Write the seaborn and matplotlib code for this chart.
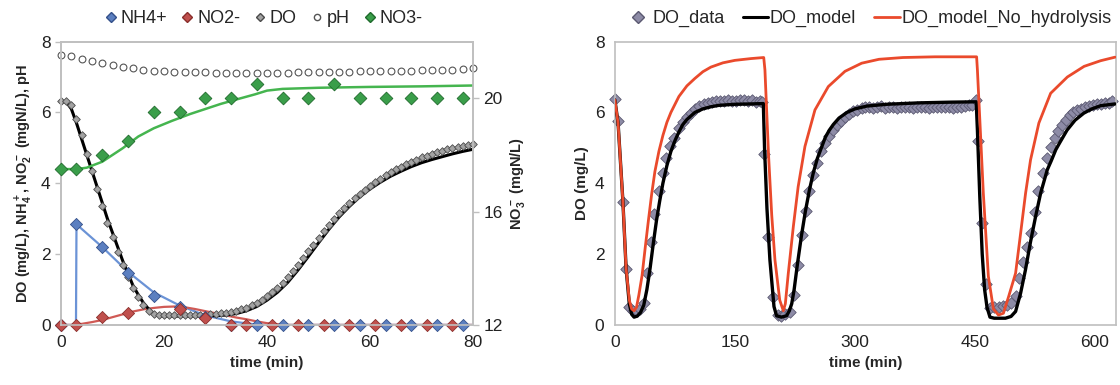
import numpy as np
import pandas as pd
import seaborn as sns
import matplotlib.pyplot as plt
from matplotlib.lines import Line2D

# --- left panel: batch test (0-80 min) ---
t_do = list(range(0, 81))
do_data = [6.31, 6.32, 6.21, 5.81, 5.36, 4.83, 4.36, 3.83, 3.36, 2.89, 2.48, 2.07, 1.69, 1.36, 1.04,
           0.80, 0.56, 0.38, 0.31, 0.28, 0.27, 0.27, 0.27, 0.27, 0.27, 0.27, 0.28, 0.28, 0.29, 0.30,
           0.31, 0.33, 0.35, 0.37, 0.40, 0.44, 0.49, 0.55, 0.62, 0.71, 0.81, 0.92, 1.05, 1.19, 1.35,
           1.52, 1.70, 1.89, 2.08, 2.27, 2.46, 2.65, 2.83, 3.00, 3.16, 3.31, 3.45, 3.58, 3.70, 3.82,
           3.93, 4.03, 4.13, 4.22, 4.31, 4.39, 4.47, 4.54, 4.61, 4.67, 4.73, 4.78, 4.83, 4.88, 4.92,
           4.96, 5.00, 5.03, 5.06, 5.09, 5.12]
t_do_model = [0, 1, 2, 3, 4, 5, 6, 7, 8, 9, 10, 11, 12, 13, 14, 15, 16, 17, 18, 19, 20, 25, 30, 32, 34,
              36, 38, 40, 42, 44, 46, 48, 50, 52, 54, 56, 58, 60, 62, 64, 66, 68, 70, 72, 74, 76, 78, 80]
do_model = [6.3, 6.3, 6.1, 5.7, 5.25, 4.8, 4.35, 3.9, 3.45, 3.0, 2.6, 2.2, 1.8, 1.45, 1.1, 0.85, 0.62,
            0.45, 0.3, 0.26, 0.25, 0.25, 0.26, 0.28, 0.32, 0.4, 0.52, 0.7, 0.92, 1.2, 1.55, 1.93, 2.32,
            2.7, 3.05, 3.35, 3.62, 3.84, 4.03, 4.2, 4.34, 4.47, 4.58, 4.67, 4.75, 4.83, 4.9, 4.96]

t_ph = list(range(0, 81, 2))
ph = [7.62, 7.58, 7.52, 7.46, 7.40, 7.34, 7.29, 7.24, 7.21, 7.18, 7.16, 7.15, 7.14, 7.13, 7.13,
      7.12, 7.12, 7.12, 7.11, 7.11, 7.11, 7.12, 7.12, 7.13, 7.13, 7.14, 7.14, 7.15, 7.15, 7.16,
      7.16, 7.17, 7.17, 7.18, 7.18, 7.19, 7.19, 7.20, 7.21, 7.22, 7.24]

t_nh4 = [0, 3, 8, 13, 18, 23, 28, 33, 38, 43, 48, 53, 58, 63, 68, 73, 78]
nh4 = [0, 2.84, 2.19, 1.46, 0.83, 0.52, 0.22, 0, 0, 0, 0, 0, 0, 0, 0, 0, 0]
t_nh4_model = [0, 2.9, 3, 8, 13, 18, 23, 28, 33, 38, 40, 80]
nh4_model = [0, 0, 2.84, 2.2, 1.5, 0.92, 0.55, 0.27, 0.1, 0.01, 0, 0]

t_no2 = [0, 3, 8, 13, 23, 28, 33, 36, 41, 46, 51, 56, 61, 66, 71, 76]
no2 = [0, 0, 0.22, 0.33, 0.44, 0.19, 0, 0, 0, 0, 0, 0, 0, 0, 0, 0]
t_no2_model = [0, 2, 4, 6, 8, 10, 12, 14, 16, 18, 20, 22, 24, 26, 28, 30, 32, 34, 36, 38, 40, 42, 44, 80]
no2_model = [0, 0, 0.03, 0.08, 0.14, 0.22, 0.3, 0.38, 0.44, 0.48, 0.51, 0.52, 0.5, 0.45, 0.39, 0.33,
             0.27, 0.21, 0.16, 0.1, 0.05, 0.02, 0, 0]

t_no3 = [0, 3, 8, 13, 18, 23, 28, 33, 38, 43, 48, 53, 58, 63, 68, 73, 78]
no3 = [17.5, 17.5, 18.0, 18.5, 19.5, 19.5, 20.0, 20.0, 20.5, 20.0, 20.0, 20.5, 20.0, 20.0, 20.0, 20.0, 20.0]
t_no3_model = [0, 3, 5, 8, 12, 15, 18, 21.5, 25, 28, 31, 34.5, 37.7, 40, 43, 50, 60, 70, 80]
no3_model = [17.5, 17.5, 17.55, 17.76, 18.24, 18.65, 18.94, 19.2, 19.44, 19.62, 19.8, 19.98, 20.14,
             20.27, 20.33, 20.37, 20.4, 20.42, 20.45]

# --- right panel: three SBR cycles (0-625 min) ---
t_do_cyc = [0.4, 3.8, 10, 13.8, 17.9, 23, 28, 32, 36.7, 39.6, 45, 49.2, 54.7, 59.7, 64.2, 69.2, 74.2,
            79.7, 84.7, 90.1, 95.2, 100.5, 105.5, 111, 116, 121.4, 126.4, 131.7, 136.7, 141.7, 146.7,
            151.7, 156.7, 161.7, 166.7, 171.7, 176.7, 181.7, 184, 186.7,
            191.7, 197.9, 203.4, 207.5, 213, 218.8, 224.2, 228.4, 233.4, 238.4, 243, 248, 253, 257.2,
            262.5, 267.5, 272.5, 277, 282.5, 287.5, 292.5, 298, 303, 308.3, 313, 318, 323, 328, 333,
            338, 343, 348, 353, 358, 363, 368, 373, 378, 383, 388, 393, 398, 403, 408, 413, 418, 423,
            428, 433, 438, 442.3, 446, 450.7,
            454, 458.2, 464, 468.5, 473.6, 479.8, 484.6, 490, 495, 500.7, 504.9, 509.9, 514.5, 519.5,
            524.5, 529.1, 534.9, 539.5, 544.5, 549.5, 554.2, 559.2, 563.3, 568.4, 572.5, 577.5, 582.5,
            587.5, 592.5, 597.5, 602.5, 607.5, 612.5, 617, 621.8]
do_cyc = [6.37, 5.77, 3.48, 1.57, 0.52, 0.38, 0.38, 0.45, 0.63, 1.46, 2.35, 3.13, 3.77, 4.28, 4.70,
          5.06, 5.29, 5.56, 5.74, 5.87, 5.98, 6.09, 6.17, 6.23, 6.28, 6.30, 6.32, 6.31, 6.33, 6.35,
          6.33, 6.32, 6.34, 6.36, 6.33, 6.34, 6.30, 6.32, 6.30, 4.83,
          2.47, 0.80, 0.28, 0.26, 0.30, 0.37, 0.85, 1.69, 2.54, 3.22, 3.77, 4.24, 4.57, 4.90, 5.13,
          5.34, 5.51, 5.65, 5.77, 5.87, 5.95, 6.03, 6.06, 6.12, 6.14, 6.16, 6.13, 6.15, 6.17, 6.12,
          6.14, 6.16, 6.13, 6.15, 6.14, 6.16, 6.13, 6.15, 6.14, 6.16, 6.13, 6.15, 6.14, 6.16, 6.14,
          6.15, 6.13, 6.16, 6.15, 6.17, 6.20, 6.22, 6.34,
          5.18, 2.89, 1.16, 0.47, 0.50, 0.50, 0.54, 0.55, 0.62, 0.82, 1.32, 1.79, 2.21, 2.59, 3.20,
          3.77, 4.28, 4.70, 5.02, 5.27, 5.48, 5.65, 5.79, 5.93, 6.00, 6.06, 6.10, 6.14, 6.18, 6.21,
          6.23, 6.25, 6.26, 6.27, 6.31]

t_model = [0, 4, 10, 14, 18, 21, 24, 28, 32, 36, 40, 44, 48, 52, 56, 60, 65, 70, 75, 80, 85, 90, 100,
           110, 120, 130, 150, 170, 185.5,
           187, 190, 193.7, 198.8, 202, 208, 214.6, 218, 221, 224, 228, 233, 238, 243, 248, 253, 258,
           263, 268, 273, 280, 290, 300, 315, 340, 380, 420, 451.5,
           453, 456, 459, 462, 465, 468.7, 474, 488, 495, 500.7, 507, 513, 519.4, 525.7, 532, 540.3,
           545, 551, 556, 565, 575, 586, 596, 607, 625]
do_mod = [6.35, 5.7, 3.5, 1.6, 0.6, 0.3, 0.22, 0.25, 0.35, 0.55, 1.0, 1.6, 2.3, 2.95, 3.5, 4.0, 4.5,
          4.9, 5.2, 5.45, 5.66, 5.8, 6.0, 6.1, 6.16, 6.2, 6.23, 6.24, 6.25,
          5.0, 3.3, 1.84, 0.52, 0.26, 0.22, 0.26, 0.4, 0.6, 1.0, 1.7, 2.5, 3.2, 3.8, 4.3, 4.7, 5.0,
          5.3, 5.5, 5.66, 5.84, 6.0, 6.1, 6.18, 6.23, 6.27, 6.29, 6.3,
          5.5, 3.6, 2.0, 1.0, 0.5, 0.22, 0.19, 0.19, 0.24, 0.38, 0.9, 1.55, 2.35, 3.06, 3.72, 4.38,
          4.62, 4.95, 5.15, 5.5, 5.78, 5.98, 6.1, 6.19, 6.24]

t_nohyd = [0, 4, 10, 14, 18, 21, 24, 27, 30, 34, 38, 42, 46, 50, 55, 60, 65, 70, 80, 90, 100, 110,
           120, 135, 150, 170, 186,
           187.5, 192, 196, 200, 206, 210.5, 213, 216.7, 223, 229, 237.5, 250, 266.7, 287.5, 308.4, 330,
           360, 400, 452,
           453, 456, 460.4, 466.7, 473, 479.3, 485.5, 492, 500.7, 507, 513.2, 519.4, 529.8, 544.5,
           565.4, 586.3, 607, 625]
do_nohyd = [6.35, 5.7, 3.5, 1.6, 0.7, 0.45, 0.4, 0.5, 0.85, 1.4, 2.2, 2.97, 3.7, 4.33, 4.9, 5.35, 5.72,
            6.0, 6.45, 6.75, 6.96, 7.15, 7.28, 7.4, 7.47, 7.52, 7.55,
            7.2, 4.8, 3.1, 1.84, 0.7, 0.4, 0.6, 1.46, 2.78, 3.9, 5.04, 6.07, 6.73, 7.16, 7.39, 7.5,
            7.55, 7.57, 7.57,
            7.2, 5.8, 3.72, 1.37, 0.45, 0.28, 0.33, 0.8, 1.46, 2.59, 3.72, 4.66, 5.7, 6.54, 7.0, 7.3,
            7.46, 7.56]

sns.set_style("white")
plt.rcParams['font.family'] = ['Liberation Sans', 'DejaVu Sans']
plt.rcParams['mathtext.fontset'] = 'custom'
plt.rcParams['mathtext.rm'] = 'Liberation Sans:bold'
plt.rcParams['mathtext.default'] = 'rm'

fig = plt.figure(figsize=(11.2, 3.85), dpi=100)
ax1 = fig.add_axes([0.0545, 0.156, 0.3679, 0.736])
ax2 = ax1.twinx()
ax3 = fig.add_axes([0.549, 0.156, 0.4473, 0.736])

BLUE, RED, GREEN = '#5b7fc0', '#c0504d', '#3a9e4a'

# left: lines first, then markers
sns.lineplot(x=t_nh4_model, y=nh4_model, ax=ax1, color='#6b93d6', lw=1.6, sort=False, estimator=None)
sns.lineplot(x=t_no2_model, y=no2_model, ax=ax1, color='#d05a55', lw=1.6, sort=False, estimator=None)
sns.lineplot(x=t_do_model, y=do_model, ax=ax1, color='black', lw=2.2, sort=False, estimator=None)
sns.scatterplot(x=t_ph, y=ph, ax=ax1, marker='o', s=24, facecolor='white', edgecolor='#555555',
                linewidth=0.8, clip_on=False)
sns.scatterplot(x=t_do, y=do_data, ax=ax1, marker='D', s=15, color='#a3a3a3', edgecolor='#4a4a4a',
                linewidth=0.6, zorder=3, clip_on=False)
sns.scatterplot(x=t_nh4, y=nh4, ax=ax1, marker='D', s=38, color=BLUE, edgecolor='#34508a',
                linewidth=0.6, zorder=4, clip_on=False)
sns.scatterplot(x=t_no2, y=no2, ax=ax1, marker='D', s=38, color=RED, edgecolor='#8a2e2b',
                linewidth=0.6, zorder=5, clip_on=False)

sns.lineplot(x=t_no3_model, y=no3_model, ax=ax2, color='#45b54f', lw=1.8, sort=False, estimator=None)
sns.scatterplot(x=t_no3, y=no3, ax=ax2, marker='D', s=42, color=GREEN, edgecolor='#1f6a2c',
                linewidth=0.6, zorder=4, clip_on=False)

ax1.set_xlim(0, 80)
ax1.set_ylim(0, 8)
ax2.set_ylim(12, 22)
ax1.set_xticks([0, 20, 40, 60, 80])
ax1.set_yticks([0, 2, 4, 6, 8])
ax2.set_yticks([12, 16, 20])
ax1.set_xlabel('time (min)', fontsize=11, fontweight='bold')
ax1.set_ylabel('DO (mg/L), NH$_4^+$, NO$_2^-$ (mgN/L), pH', fontsize=10.5, fontweight='bold', labelpad=4)
ax2.set_ylabel('NO$_3^-$ (mgN/L)', fontsize=10.5, fontweight='bold', labelpad=4)

# right: cycles
sns.lineplot(x=t_model, y=do_mod, ax=ax3, color='black', lw=2.4, sort=False, estimator=None, zorder=3)
sns.lineplot(x=t_nohyd, y=do_nohyd, ax=ax3, color='#ea4a2c', lw=2.0, sort=False, estimator=None, zorder=4)
sns.scatterplot(x=t_do_cyc, y=do_cyc, ax=ax3, marker='D', s=34, color='#8d8ba6', edgecolor='#5a5870',
                linewidth=0.6, zorder=2, clip_on=False)
ax3.set_xlim(0, 626)
ax3.set_ylim(0, 8)
ax3.set_xticks([0, 150, 300, 450, 600])
ax3.set_yticks([0, 2, 4, 6, 8])
ax3.set_xlabel('time (min)', fontsize=11, fontweight='bold')
ax3.set_ylabel('DO (mg/L)', fontsize=11, fontweight='bold', labelpad=4)

for ax in (ax1, ax2, ax3):
    for sp in ax.spines.values():
        sp.set_color('#bfbfbf')
        sp.set_linewidth(1.2)
    ax.tick_params(labelsize=12.5, colors='#222222', length=4, width=1, direction='out')
    ax.tick_params(color='#bfbfbf')
    ax.grid(False)

h1 = [Line2D([], [], ls='none', marker='D', ms=5.5, mfc=BLUE, mec='#34508a'),
      Line2D([], [], ls='none', marker='D', ms=5.5, mfc=RED, mec='#8a2e2b'),
      Line2D([], [], ls='none', marker='D', ms=4, mfc='#a3a3a3', mec='#4a4a4a'),
      Line2D([], [], ls='none', marker='o', ms=4.5, mfc='white', mec='#555555'),
      Line2D([], [], ls='none', marker='D', ms=5.5, mfc=GREEN, mec='#1f6a2c')]
fig.legend(h1, ['NH4+', 'NO2-', 'DO', 'pH', 'NO3-'], loc='center', bbox_to_anchor=(0.234, 0.952),
           ncol=5, frameon=False, fontsize=13, handletextpad=0.05, columnspacing=0.6, handlelength=1.0)

h3 = [Line2D([], [], ls='none', marker='D', ms=6, mfc='#8d8ba6', mec='#5a5870'),
      Line2D([], [], color='black', lw=2.2),
      Line2D([], [], color='#ea4a2c', lw=2.0)]
fig.legend(h3, ['DO_data', 'DO_model', 'DO_model_No_hydrolysis'], loc='center', bbox_to_anchor=(0.7755, 0.952),
           ncol=3, frameon=False, fontsize=13, handletextpad=0.1, columnspacing=1.0, handlelength=1.4,
           borderaxespad=0, borderpad=0.2)

fig.savefig('out.png', dpi=100)
